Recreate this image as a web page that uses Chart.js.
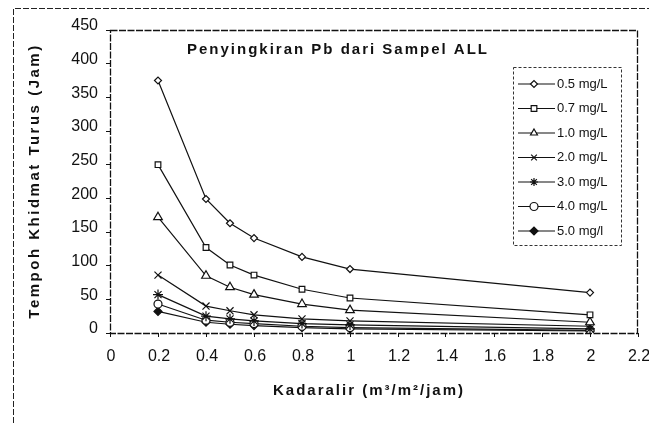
<!DOCTYPE html>
<html>
<head>
<meta charset="utf-8">
<script src="https://cdn.jsdelivr.net/npm/chart.js@4/dist/chart.umd.min.js"></script>
<style>
  html, body { margin: 0; padding: 0; background: #fff; }
  #wrap { width: 649px; height: 423px; position: relative; }
</style>
</head>
<body>
<div id="wrap"><canvas id="chart"></canvas></div>
<script>
  // Kadaralir (m3/m2/jam)
  const kadaralir = [0.2, 0.4, 0.5, 0.6, 0.8, 1, 2];

  // Tempoh khidmat turus (jam) ikut kepekatan
  const pb05 = [375, 199, 163, 141, 113, 95, 60];
  const pb07 = [250, 127, 101, 86, 65, 52, 27];
  const pb10 = [172, 85, 68, 57, 43, 34, 16];
  const pb20 = [86, 40, 33, 27, 21, 18, 10];
  const pb30 = [57, 25, 21, 18, 14, 12, 6];
  const pb40 = [43, 19, 16, 14, 10, 8, 4];
  const pb50 = [32, 16, 13, 11, 8, 6, 3];

  const seriesNames = ["0.5 mg/L", "0.7 mg/L", "1.0 mg/L", "2.0 mg/L", "3.0 mg/L", "4.0 mg/L", "5.0 mg/l"];
  const xTicks = [0, 0.2, 0.4, 0.6, 0.8, 1, 1.2, 1.4, 1.6, 1.8, 2, 2.2];
  const yTicks = [0, 50, 100, 150, 200, 250, 300, 350, 400, 450];

  const chartTitle = "Penyingkiran Pb dari Sampel ALL";
  const xTitle = "Kadaralir (m\u00B3/m\u00B2/jam)";
  const yTitle = "Tempoh Khidmat Turus (Jam)";

  const FONT = "'Liberation Sans', Arial, sans-serif";
  const INK = "#111";

  const styles = [
    { pointStyle: "rectRot", radius: 3.5, fill: "#fff" },
    { pointStyle: "rect", radius: 4, fill: "#fff" },
    { pointStyle: "triangle", radius: 5, fill: "#fff" },
    { pointStyle: "crossRot", radius: 5, fill: "#fff" },
    { pointStyle: "star", radius: 5, fill: "#fff" },
    { pointStyle: "circle", radius: 4, fill: "#fff" },
    { pointStyle: "rectRot", radius: 4, fill: INK }
  ];

  const allSeries = [pb05, pb07, pb10, pb20, pb30, pb40, pb50];
  const datasets = allSeries.map((vals, i) => ({
    label: seriesNames[i],
    data: vals.map((v, j) => ({ x: kadaralir[j], y: v })),
    borderColor: INK,
    borderWidth: 1.2,
    backgroundColor: styles[i].fill,
    pointStyle: styles[i].pointStyle,
    pointRadius: styles[i].radius,
    pointBorderColor: INK,
    pointBackgroundColor: styles[i].fill,
    pointBorderWidth: 1.2,
    tension: 0,
    fill: false
  }));

  // kotak, tajuk dan legenda ala carta imbasan
  const decor = {
    id: "decor",
    beforeDraw(chart) {
      const ctx = chart.ctx;
      ctx.save();
      ctx.strokeStyle = "#222";
      ctx.lineWidth = 1;
      ctx.setLineDash([6, 2]);
      ctx.beginPath();
      ctx.moveTo(13.5, 423);
      ctx.lineTo(13.5, 8.5);
      ctx.lineTo(649, 8.5);
      ctx.stroke();
      ctx.restore();
    },
    afterDatasetsDraw(chart) {
      const ctx = chart.ctx;
      const a = chart.chartArea;
      ctx.save();
      ctx.strokeStyle = INK;
      ctx.lineWidth = 1.3;
      ctx.setLineDash([7, 1.5]);
      ctx.strokeRect(a.left + 0.5, a.top + 0.5, a.right - a.left - 1, a.bottom - a.top);
      ctx.setLineDash([]);

      ctx.fillStyle = INK;
      ctx.textBaseline = "middle";
      ctx.font = "bold 15px " + FONT;
      ctx.letterSpacing = "2px";
      ctx.textAlign = "center";
      ctx.fillText(chartTitle, a.left + 228, a.top + 20);
      ctx.fillText(xTitle, 369, 391);
      ctx.save();
      ctx.translate(35, 181);
      ctx.rotate(-Math.PI / 2);
      ctx.letterSpacing = "2.5px";
      ctx.fillText(yTitle, 0, 0);
      ctx.restore();
      ctx.letterSpacing = "0px";

      // legenda
      const lx = a.right - 125, ly = a.top + 37, lw = 108, lh = 178;
      ctx.strokeStyle = "#333";
      ctx.lineWidth = 1;
      ctx.setLineDash([3, 2]);
      ctx.strokeRect(lx + 0.5, ly + 0.5, lw, lh);
      ctx.setLineDash([]);
      ctx.font = "13px " + FONT;
      ctx.textAlign = "left";
      chart.data.datasets.forEach((ds, i) => {
        const y = ly + 17 + i * 24.5;
        ctx.strokeStyle = INK;
        ctx.lineWidth = 1.2;
        ctx.beginPath();
        ctx.moveTo(lx + 5, y);
        ctx.lineTo(lx + 42, y);
        ctx.stroke();
        ctx.fillStyle = ds.pointBackgroundColor;
        Chart.helpers.drawPoint(ctx, {
          pointStyle: ds.pointStyle,
          radius: Math.min(ds.pointRadius, 4),
          rotation: 0,
          borderWidth: 1.2
        }, lx + 21, y);
        ctx.fillStyle = INK;
        ctx.fillText(ds.label, lx + 44, y);
      });
      ctx.restore();
    }
  };

  new Chart(document.getElementById("chart"), {
    type: "line",
    data: { datasets: datasets },
    plugins: [decor],
    options: {
      responsive: true,
      maintainAspectRatio: false,
      animation: false,
      layout: { padding: { left: 0, top: 30, right: 11, bottom: 0 } },
      plugins: {
        legend: { display: false },
        title: { display: false },
        tooltip: { enabled: false }
      },
      scales: {
        x: {
          type: "linear",
          min: 0,
          max: 2.2,
          afterBuildTicks: s => { s.ticks = xTicks.map(v => ({ value: v })); },
          afterFit: s => { s.height = 90; s.paddingLeft = 0; s.paddingRight = 0; },
          border: { display: false },
          grid: { drawOnChartArea: false, drawTicks: true, tickLength: 4, color: INK },
          ticks: {
            color: INK,
            font: { family: FONT, size: 16 },
            padding: 10,
            labelOffset: 1,
            maxRotation: 0,
            autoSkip: false,
            callback: v => String(Math.round(v * 10) / 10)
          }
        },
        y: {
          min: 0,
          max: 450,
          afterBuildTicks: s => { s.ticks = yTicks.map(v => ({ value: v })); },
          afterFit: s => { s.width = 110; },
          border: { display: false },
          grid: { drawOnChartArea: false, drawTicks: true, tickLength: 4, color: INK },
          ticks: {
            color: INK,
            font: { family: FONT, size: 16 },
            padding: 8,
            labelOffset: -4,
            autoSkip: false
          }
        }
      }
    }
  });
</script>
</body>
</html>
